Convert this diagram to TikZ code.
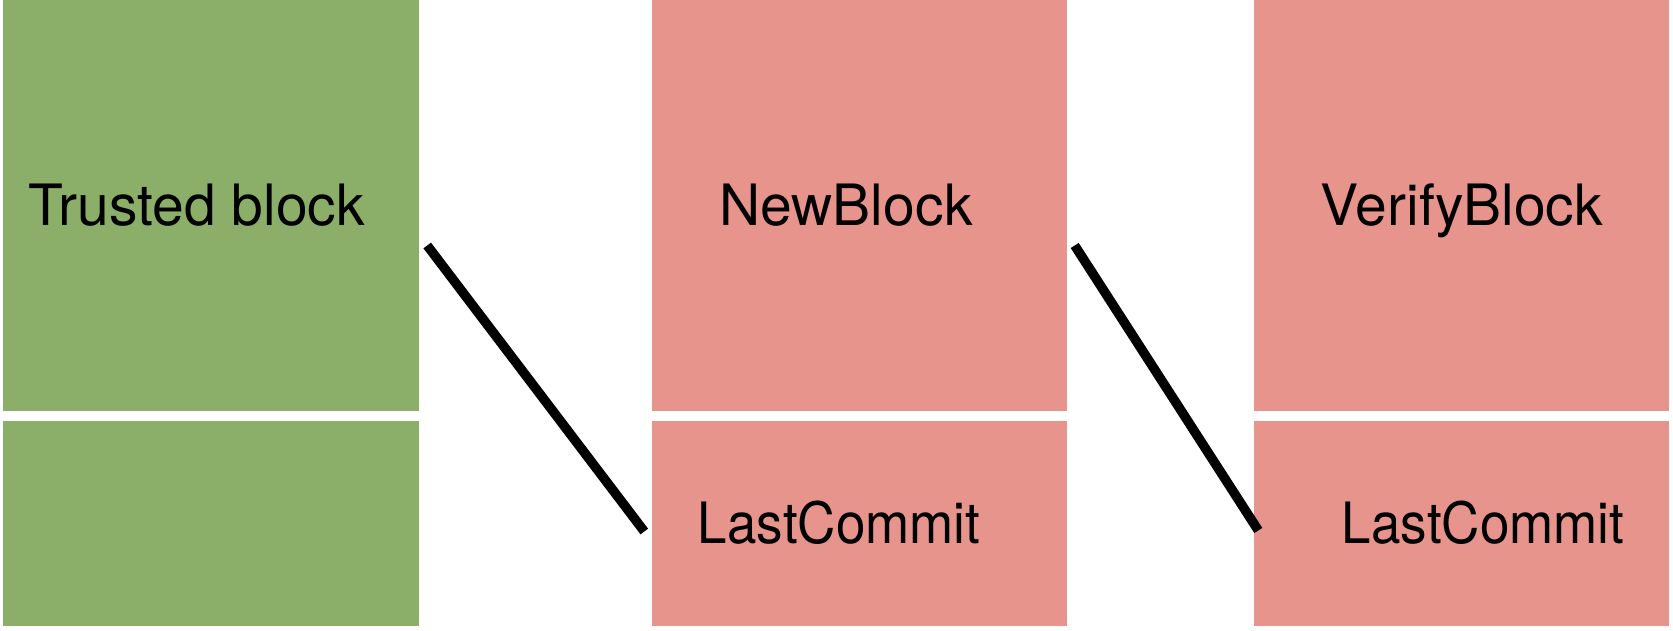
\documentclass[tikz,border=0pt]{standalone}
\usepackage{fontspec}
\setmainfont{TeX Gyre Heros}
\usepackage{tikz}
\definecolor{trustgreen}{RGB}{139,174,105}
\definecolor{blockpink}{RGB}{231,148,140}

\begin{document}
\begin{tikzpicture}[x=1pt, y=1pt,
    trustbox/.style={rectangle, fill=trustgreen, inner sep=0pt, minimum width=416pt},
    pinkbox/.style={rectangle, fill=blockpink, inner sep=0pt, minimum width=415pt},
    tall/.style={minimum height=411pt},
    short/.style={minimum height=205pt},
    boxtext/.style={anchor=base, inner sep=0pt, font=\fontsize{57}{68}\selectfont},
    committext/.style={boxtext, xscale=0.93, transform shape}]
            \useasboundingbox (0,0) rectangle (1673,631);

            % Blocks
            \node[trustbox, tall] (T1) at (211, 425.5) {};
            \node[trustbox, short] (T2) at (211, 107.5) {};
            \node[pinkbox, tall] (N1) at (859, 425.5) {};
            \node[pinkbox, short] (N2) at (859, 107.5) {};
            \node[pinkbox, tall] (V1) at (1461, 425.5) {};
            \node[pinkbox, short] (V2) at (1461, 107.5) {};

            % Texts
            \node[boxtext] (T1text) at (197, 405) {Trusted block};
            \node[boxtext] (N1text) at (846, 405) {NewBlock};
            \node[boxtext] (V1text) at (1462, 405) {VerifyBlock};
            \node[committext] (N2text) at (839, 87) {LastCommit};
            \node[committext] (V2text) at (1483, 87) {LastCommit};

            % Links
            \coordinate (L1a) at ([xshift=8pt, yshift=-40pt]T1.east);
            \coordinate (L1b) at ([xshift=-7pt, yshift=-8pt]N2.west);
            \coordinate (L2a) at ([xshift=8pt, yshift=-40pt]N1.east);
            \coordinate (L2b) at ([xshift=5pt, yshift=-7pt]V2.west);
            \draw[line width=9.5pt] (L1a) -- (L1b);
            \draw[line width=9.5pt] (L2a) -- (L2b);
            \end{tikzpicture}
\end{document}
